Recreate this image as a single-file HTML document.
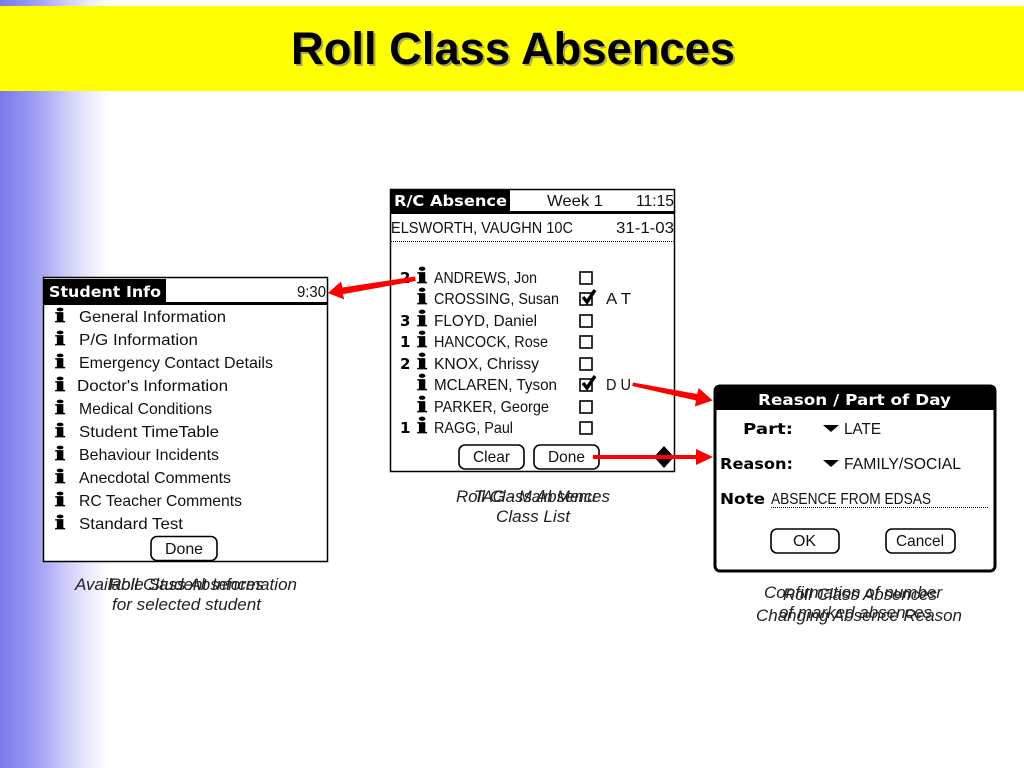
<!DOCTYPE html>
<html><head><meta charset="utf-8"><title>Roll Class Absences</title>
<style>
html,body{margin:0;padding:0;background:#fff;width:1024px;height:768px;overflow:hidden}
svg{display:block}
text{font-family:"Liberation Sans",sans-serif;fill:#000}
.p{font-family:"Liberation Sans",sans-serif;font-size:16px;fill:#111}
.b{font-family:"DejaVu Sans","Liberation Sans",sans-serif;font-size:15px;font-weight:bold;fill:#000}
.i{font-family:"Liberation Serif",serif;font-size:20px;font-weight:bold;fill:#000;stroke:#000;stroke-width:.8}
.j{font-family:"Liberation Serif",serif;font-size:23px;font-weight:bold;fill:#000;stroke:#000;stroke-width:.8}
.c{font-size:16.7px;font-style:italic;fill:#222}
.box{fill:#fff;stroke:#000;stroke-width:1.5}
</style></head><body>
<svg width="1024" height="768" viewBox="0 0 1024 768" xmlns="http://www.w3.org/2000/svg">
<defs><linearGradient id="g" x1="0" x2="1" y1="0" y2="0">
<stop offset="0" stop-color="#7a7aee"/><stop offset=".2" stop-color="#8e8ef1"/><stop offset=".4" stop-color="#aaaaf5"/><stop offset=".6" stop-color="#ccccfa"/><stop offset=".8" stop-color="#eaeafd"/><stop offset="1" stop-color="#fff"/></linearGradient></defs>
<rect width="1024" height="768" fill="#fff"/>
<rect width="110" height="768" fill="url(#g)"/>
<rect x="0" y="6" width="1024" height="85" fill="#ffff00"/>
<text x="293" y="66" font-size="45" font-weight="bold" style="fill:#a8a860" textLength="444" lengthAdjust="spacingAndGlyphs">Roll Class Absences</text>
<text x="291" y="64" font-size="45" font-weight="bold" textLength="444" lengthAdjust="spacingAndGlyphs">Roll Class Absences</text>

<!-- Left panel -->
<rect x="43.5" y="277.5" width="284" height="284" class="box" fill="#fff"/>
<rect x="44" y="279" width="122" height="23" fill="#000"/>
<rect x="44" y="302" width="283" height="3" fill="#000"/>
<text x="49" y="297" class="b" style="fill:#fff" textLength="112" lengthAdjust="spacingAndGlyphs">Student Info</text>
<text x="297" y="297" class="p" textLength="29" lengthAdjust="spacingAndGlyphs">9:30</text>
<text x="55" y="322" class="i" textLength="10" lengthAdjust="spacingAndGlyphs">i</text><text x="79" y="322" class="p" textLength="147" lengthAdjust="spacingAndGlyphs">General Information</text>
<text x="55" y="345" class="i" textLength="10" lengthAdjust="spacingAndGlyphs">i</text><text x="79" y="345" class="p" textLength="119" lengthAdjust="spacingAndGlyphs">P/G Information</text>
<text x="55" y="368" class="i" textLength="10" lengthAdjust="spacingAndGlyphs">i</text><text x="79" y="368" class="p" textLength="194" lengthAdjust="spacingAndGlyphs">Emergency Contact Details</text>
<text x="55" y="391" class="i" textLength="10" lengthAdjust="spacingAndGlyphs">i</text><text x="77" y="391" class="p" textLength="151" lengthAdjust="spacingAndGlyphs">Doctor's Information</text>
<text x="55" y="414" class="i" textLength="10" lengthAdjust="spacingAndGlyphs">i</text><text x="79" y="414" class="p" textLength="133" lengthAdjust="spacingAndGlyphs">Medical Conditions</text>
<text x="55" y="437" class="i" textLength="10" lengthAdjust="spacingAndGlyphs">i</text><text x="79" y="437" class="p" textLength="140" lengthAdjust="spacingAndGlyphs">Student TimeTable</text>
<text x="55" y="460" class="i" textLength="10" lengthAdjust="spacingAndGlyphs">i</text><text x="79" y="460" class="p" textLength="140" lengthAdjust="spacingAndGlyphs">Behaviour Incidents</text>
<text x="55" y="483" class="i" textLength="10" lengthAdjust="spacingAndGlyphs">i</text><text x="79" y="483" class="p" textLength="152" lengthAdjust="spacingAndGlyphs">Anecdotal Comments</text>
<text x="55" y="506" class="i" textLength="10" lengthAdjust="spacingAndGlyphs">i</text><text x="79" y="506" class="p" textLength="163" lengthAdjust="spacingAndGlyphs">RC Teacher Comments</text>
<text x="55" y="529" class="i" textLength="10" lengthAdjust="spacingAndGlyphs">i</text><text x="79" y="529" class="p" textLength="104" lengthAdjust="spacingAndGlyphs">Standard Test</text>
<rect x="151" y="536.5" width="66" height="24" rx="6" fill="#fff" stroke="#000" stroke-width="1.6"/>
<text x="165" y="554" class="p" textLength="38" lengthAdjust="spacingAndGlyphs">Done</text>

<!-- Middle panel -->
<rect x="390.5" y="189.5" width="284" height="282" class="box"/>
<rect x="390" y="190" width="120" height="21" fill="#000"/>
<rect x="390" y="211" width="285" height="3" fill="#000"/>
<text x="394" y="206" class="b" style="fill:#fff" textLength="113" lengthAdjust="spacingAndGlyphs">R/C Absence</text>
<text x="547" y="206" class="p" textLength="56" lengthAdjust="spacingAndGlyphs">Week 1</text>
<text x="636" y="206" class="p" textLength="38" lengthAdjust="spacingAndGlyphs">11:15</text>
<text x="391" y="233" class="p" textLength="182" lengthAdjust="spacingAndGlyphs">ELSWORTH, VAUGHN 10C</text>
<text x="616" y="233" class="p" textLength="58" lengthAdjust="spacingAndGlyphs">31-1-03</text>
<line x1="391" y1="241.5" x2="674" y2="241.5" stroke="#000" stroke-width="1" stroke-dasharray="1 1"/>

<text x="400" y="283" class="b">2</text><text x="417" y="283" class="j" textLength="10" lengthAdjust="spacingAndGlyphs">i</text><text x="434" y="283" class="p" textLength="103" lengthAdjust="spacingAndGlyphs">ANDREWS, Jon</text>
<text x="417" y="304" class="j" textLength="10" lengthAdjust="spacingAndGlyphs">i</text><text x="434" y="304" class="p" textLength="125" lengthAdjust="spacingAndGlyphs">CROSSING, Susan</text>
<text x="400" y="326" class="b">3</text><text x="417" y="326" class="j" textLength="10" lengthAdjust="spacingAndGlyphs">i</text><text x="434" y="326" class="p" textLength="103" lengthAdjust="spacingAndGlyphs">FLOYD, Daniel</text>
<text x="400" y="347" class="b">1</text><text x="417" y="347" class="j" textLength="10" lengthAdjust="spacingAndGlyphs">i</text><text x="434" y="347" class="p" textLength="114" lengthAdjust="spacingAndGlyphs">HANCOCK, Rose</text>
<text x="400" y="369" class="b">2</text><text x="417" y="369" class="j" textLength="10" lengthAdjust="spacingAndGlyphs">i</text><text x="434" y="369" class="p" textLength="105" lengthAdjust="spacingAndGlyphs">KNOX, Chrissy</text>
<text x="417" y="390" class="j" textLength="10" lengthAdjust="spacingAndGlyphs">i</text><text x="434" y="390" class="p" textLength="123" lengthAdjust="spacingAndGlyphs">MCLAREN, Tyson</text>
<text x="417" y="412" class="j" textLength="10" lengthAdjust="spacingAndGlyphs">i</text><text x="434" y="412" class="p" textLength="115" lengthAdjust="spacingAndGlyphs">PARKER, George</text>
<text x="400" y="433" class="b">1</text><text x="417" y="433" class="j" textLength="10" lengthAdjust="spacingAndGlyphs">i</text><text x="434" y="433" class="p" textLength="79" lengthAdjust="spacingAndGlyphs">RAGG, Paul</text>

<g fill="#fff" stroke="#000" stroke-width="1.6">
<rect x="580" y="272" width="12" height="12"/><rect x="580" y="293" width="12" height="12"/>
<rect x="580" y="315" width="12" height="12"/><rect x="580" y="336" width="12" height="12"/>
<rect x="580" y="358" width="12" height="12"/><rect x="580" y="379" width="12" height="12"/>
<rect x="580" y="401" width="12" height="12"/><rect x="580" y="422" width="12" height="12"/>
</g>
<g fill="none" stroke="#000" stroke-width="3.4">
<path d="M583 297l4 5 8-12"/><path d="M583 383l4 5 8-12"/>
</g>
<text x="606" y="304" class="p" textLength="25" lengthAdjust="spacingAndGlyphs">A T</text>
<text x="606" y="390" class="p" textLength="25" lengthAdjust="spacingAndGlyphs">D U</text>
<rect x="459" y="445" width="65" height="24" rx="6" fill="#fff" stroke="#000" stroke-width="1.6"/>
<rect x="534" y="445" width="65" height="24" rx="6" fill="#fff" stroke="#000" stroke-width="1.6"/>
<text x="473" y="462" class="p" textLength="37" lengthAdjust="spacingAndGlyphs">Clear</text>
<text x="548" y="462" class="p" textLength="37" lengthAdjust="spacingAndGlyphs">Done</text>
<path d="M664 446l10 11-10 11-10-11z" fill="#000"/>

<!-- Right dialog -->
<rect x="715" y="386" width="280" height="185" rx="5" fill="#fff" stroke="#000" stroke-width="3"/>
<path d="M714 410v-20q0-5 5-5h272q5 0 5 5v20z" fill="#000"/>
<text x="758" y="405" class="b" style="fill:#fff" textLength="193" lengthAdjust="spacingAndGlyphs">Reason / Part of Day</text>
<text x="743" y="434" class="b" textLength="50" lengthAdjust="spacingAndGlyphs">Part:</text>
<path d="M823 425h16l-8 7z" fill="#000"/>
<text x="844" y="434" class="p" textLength="37" lengthAdjust="spacingAndGlyphs">LATE</text>
<text x="720" y="469" class="b" textLength="73" lengthAdjust="spacingAndGlyphs">Reason:</text>
<path d="M823 460h16l-8 7z" fill="#000"/>
<text x="844" y="469" class="p" textLength="117" lengthAdjust="spacingAndGlyphs">FAMILY/SOCIAL</text>
<text x="720" y="504" class="b" textLength="45" lengthAdjust="spacingAndGlyphs">Note</text>
<text x="771" y="504" class="p" textLength="160" lengthAdjust="spacingAndGlyphs">ABSENCE FROM EDSAS</text>
<line x1="771" y1="507.5" x2="989" y2="507.5" stroke="#000" stroke-width="1" stroke-dasharray="1 1"/>
<rect x="771" y="529" width="68" height="24" rx="6" fill="#fff" stroke="#000" stroke-width="1.6"/>
<rect x="886" y="529" width="69" height="24" rx="6" fill="#fff" stroke="#000" stroke-width="1.6"/>
<text x="793" y="546" class="p" textLength="23" lengthAdjust="spacingAndGlyphs">OK</text>
<text x="896" y="546" class="p" textLength="48" lengthAdjust="spacingAndGlyphs">Cancel</text>

<!-- Arrows -->
<g fill="#f00" stroke="none">
<path d="M415 276.500l.8 4.500-72 13-1 .2 1.500 5.300L328 293l13-11.500 1.500 6z"/>
<path d="M633 382.500l-.8 3.500 64 14.500-1.500 6 18-6-14-12.500-1.500 6z"/>
<path d="M593 455h103v-6l17 8-17 8v-6H593z"/>
</g>

<!-- Captions -->
<text x="75" y="590" class="c" textLength="222" lengthAdjust="spacingAndGlyphs">Available Student Information</text>
<text x="109" y="590" class="c" textLength="155" lengthAdjust="spacingAndGlyphs">Roll Class Absences</text>
<text x="112" y="610" class="c" textLength="149" lengthAdjust="spacingAndGlyphs">for selected student</text>
<text x="456" y="502" class="c" textLength="154" lengthAdjust="spacingAndGlyphs">Roll Class Absences</text>
<text x="474" y="502" class="c" textLength="122" lengthAdjust="spacingAndGlyphs">TAG - Main Menu</text>
<text x="496" y="522" class="c" textLength="74" lengthAdjust="spacingAndGlyphs">Class List</text>
<text x="764" y="598" class="c" textLength="178" lengthAdjust="spacingAndGlyphs">Confirmation of number</text>
<text x="783" y="600" class="c" textLength="154" lengthAdjust="spacingAndGlyphs">Roll Class Absences</text>
<text x="779" y="618" class="c" textLength="153" lengthAdjust="spacingAndGlyphs">of marked absences</text>
<text x="756" y="621" class="c" textLength="206" lengthAdjust="spacingAndGlyphs">Changing Absence Reason</text>
</svg>
</body></html>
